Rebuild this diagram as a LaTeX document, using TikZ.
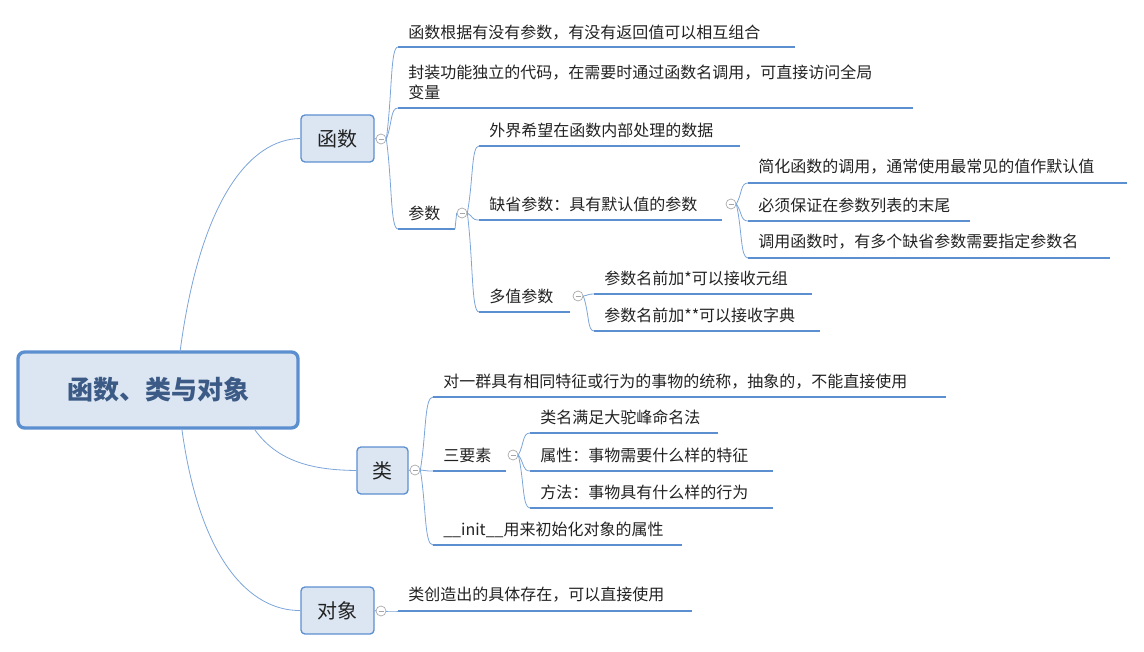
\documentclass[tikz,border=0pt]{standalone}
\usepackage{fontspec}
\setmainfont{Noto Sans CJK SC}
\definecolor{lb}{HTML}{5B8FD0}
\definecolor{bf}{HTML}{DCE6F2}
\definecolor{tx}{HTML}{222222}
\definecolor{rt}{HTML}{3B5A85}
\tikzset{
 x=0.75pt,y=-0.75pt,
 lf/.style={anchor=west,inner sep=0pt,text=tx,font=\fontsize{12}{14}\selectfont,align=left},
 ul/.style={draw=lb,line width=1.5pt},
 cn/.style={draw=lb!80,line width=0.6pt},
 tog/.style={circle,draw=gray!70,fill=white,minimum size=7.5pt,inner sep=0pt,line width=0.5pt},
 topic/.style={draw=lb,fill=bf,rounded corners=3pt,line width=1pt,text=tx,font=\fontsize{15}{18}\selectfont,inner sep=0pt}
}
\newcommand{\tg}[3]{\node[tog] (#1) at (#2,#3) {}; \draw[gray!70,line width=0.5pt] ($(#1)+(-2.5,0)$)--($(#1)+(2.5,0)$);}
% name, textx, texty, liney, x0, x1, text, parent
\newcommand{\leaf}[8]{%
 \node[lf] (#1) at (#2,#3) {#7};
 \coordinate (#1-s) at (#5,#4); \coordinate (#1-e) at (#6,#4);
 \draw[ul] (#1-s)--(#1-e);
 \draw[cn] (#8.east) .. controls ($(#8.east)!0.5!(#8.east|-#1-s)+(6,0)$) and ($(#8.east|-#1-s)+(4,0)$) .. (#1-s);}
\usetikzlibrary{calc}
\begin{document}
\begin{tikzpicture}
\useasboundingbox (0,0) rectangle (1144,652);
\node[draw=lb,fill=bf,rounded corners=5pt,line width=2.5pt,minimum width=280*0.75pt,minimum height=76*0.75pt,text=rt,font=\fontsize{19.5}{22}\selectfont\bfseries] (root) at (158,390) {函数、类与对象};
\node[topic,minimum width=73*0.75pt,minimum height=47*0.75pt] (fn) at (337.5,138.5) {函数};
\node[topic,minimum width=51*0.75pt,minimum height=47*0.75pt] (cls) at (382.5,470.5) {类};
\node[topic,minimum width=73*0.75pt,minimum height=47*0.75pt] (obj) at (337.5,610.5) {对象};
\draw[cn] (180,352) .. controls (200,200) and (250,139) .. (fn.west);
\draw[cn] (255,430) .. controls (280,465) and (320,470) .. (cls.west);
\draw[cn] (182,430) .. controls (200,560) and (250,611) .. (obj.west);
\draw[cn] (fn.east)--(376.5,139); \draw[cn] (cls.east)--(410.5,470); \draw[cn] (obj.east)--(376.5,611);
\tg{tf}{381}{139}
\tg{tc}{415}{470}
\tg{to}{381}{611}
\leaf{a1}{408}{33}{47}{398}{795}{函数根据有没有参数，有没有返回值可以相互组合}{tf}
\leaf{a2}{408}{82}{108}{398}{913}{封装功能独立的代码，在需要时通过函数名调用，可直接访问全局\\[1pt]变量}{tf}
\leaf{a3}{408}{213}{229}{398}{455}{参数}{tf}
\tg{tp}{462}{213}
\draw[cn] (a3-e)--(tp.west);
\leaf{b1}{489}{130}{146}{479}{740}{外界希望在函数内部处理的数据}{tp}
\leaf{b2}{489}{204}{220}{479}{722}{缺省参数：具有默认值的参数}{tp}
\leaf{b3}{489}{296}{312}{479}{570}{多值参数}{tp}
\tg{td}{731}{204}
\tg{tm}{578}{296}
\leaf{c1}{758}{167}{183}{748}{1127}{简化函数的调用，通常使用最常见的值作默认值}{td}
\leaf{c2}{758}{205}{221}{748}{970}{必须保证在参数列表的末尾}{td}
\leaf{c3}{758}{242}{258}{748}{1110}{调用函数时，有多个缺省参数需要指定参数名}{td}
\leaf{d1}{604}{278}{294}{594}{812}{参数名前加*可以接收元组}{tm}
\leaf{d2}{604}{315}{331}{594}{820}{参数名前加**可以接收字典}{tm}
\leaf{e1}{443}{382}{397}{433}{946}{对一群具有相同特征或行为的事物的统称，抽象的，不能直接使用}{tc}
\leaf{e2}{443}{455}{471}{433}{506}{三要素}{tc}
\leaf{e3}{443}{530}{545}{433}{682}{\_\_init\_\_用来初始化对象的属性}{tc}
\tg{ts}{513}{455}
\leaf{f1}{540}{417}{433}{530}{718}{类名满足大驼峰命名法}{ts}
\leaf{f2}{540}{455}{471}{530}{773}{属性：事物需要什么样的特征}{ts}
\leaf{f3}{540}{492}{508}{530}{773}{方法：事物具有什么样的行为}{ts}
\leaf{g1}{408}{595}{611}{398}{692}{类创造出的具体存在，可以直接使用}{to}
\end{tikzpicture}
\end{document}
